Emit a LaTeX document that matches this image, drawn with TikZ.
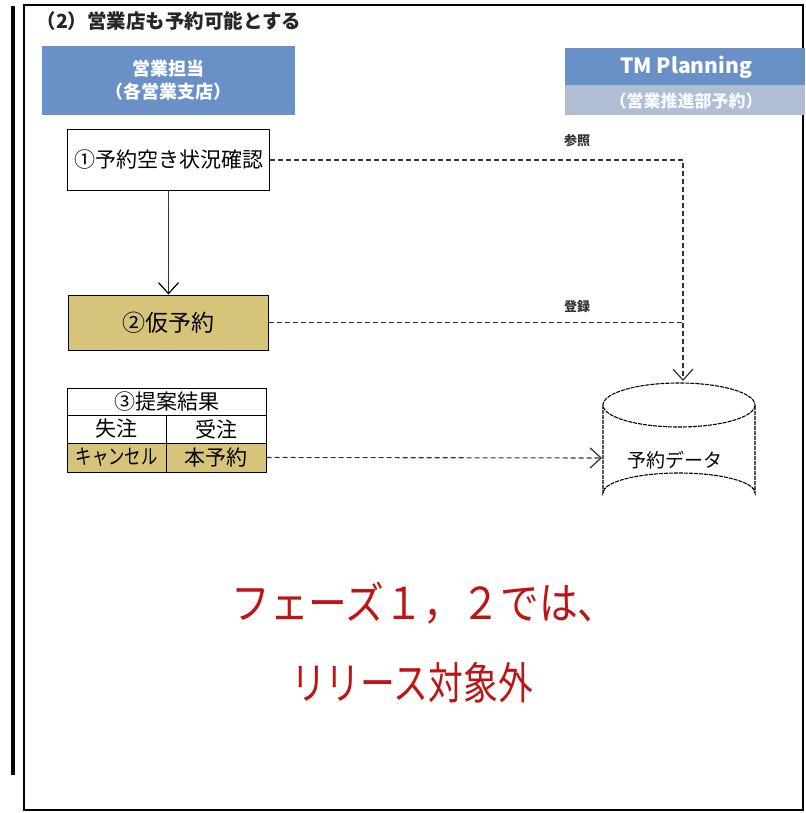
\documentclass[tikz,border=0pt]{standalone}
\usepackage{fontspec}
\setmainfont{Noto Sans CJK JP}
\usetikzlibrary{arrows.meta}
\definecolor{hdrblue}{RGB}{105,145,200}
\definecolor{hdrlight}{RGB}{175,190,212}
\definecolor{yel}{RGB}{214,196,122}
\definecolor{redtxt}{RGB}{190,20,20}
\definecolor{lineblue}{RGB}{30,50,120}
\tikzset{
  box/.style={draw=black, line width=1pt, inner sep=0pt, font=\fontsize{21}{24}\selectfont},
  cell/.style={draw=black, line width=1pt, inner sep=0pt, font=\fontsize{21}{23}\selectfont},
  dsh/.style={draw=black!80, line width=1.1pt, dash pattern=on 5pt off 3pt},
  vtip/.style={-{Straight Barb[length=11pt,width=20pt,line width=1.2pt]}},
  lbl/.style={font=\fontsize{13}{15}\selectfont\bfseries, text=black!80},
  hdr/.style={text=white, font=\fontsize{18}{23}\selectfont\bfseries, align=center},
  bigred/.style={text=redtxt, font=\fontsize{44}{50}\selectfont}
}
\begin{document}
\begin{tikzpicture}[x=1pt,y=-1pt]
\useasboundingbox (0,0) rectangle (805,813);
\fill[white] (0,0) rectangle (805,813);
% frame
\draw[line width=4pt] (13,6) -- (13,775);
\draw[line width=1.5pt] (24,5) rectangle (803,810);
% title
\node[anchor=west, font=\fontsize{19.5}{22}\selectfont\bfseries, text=black!85] (title) at (33,21) {（2）営業店も予約可能とする};
% headers
\fill[hdrblue] (42,46) rectangle (295,115);
\node[hdr] (hl) at (168.5,80.5) {営業担当\\（各営業支店）};
\fill[hdrblue] (565,48) rectangle (805,85);
\fill[hdrlight] (565,85) rectangle (805,115);
\node[text=white, font=\fontsize{21}{24}\selectfont\bfseries] (hr) at (686,67) {TM Planning};
\node[text=white!90!hdrlight, font=\fontsize{17}{20}\selectfont\bfseries] (hr2) at (686,101) {（営業推進部予約）};
% boxes
\node[box, minimum width=202pt, minimum height=60pt] (b1) at (168.5,160) {①予約空き状況確認};
\node[box, fill=yel, minimum width=200pt, minimum height=55pt, font=\fontsize{23}{26}\selectfont] (b2) at (168,322.5) {②仮予約};
% table
\node[cell, minimum width=199pt, minimum height=27pt] (t1) at (166.5,401.5) {③提案結果};
\node[cell, minimum width=99.5pt, minimum height=28pt] (t2a) at (116.75,429) {失注};
\node[cell, minimum width=99.5pt, minimum height=28pt] (t2b) at (216.25,429) {受注};
\node[cell, fill=yel, minimum width=99.5pt, minimum height=29pt] (t3a) at (116.75,457.5) {\scalebox{0.78}[1]{キャンセル}};
\node[cell, fill=yel, minimum width=99.5pt, minimum height=29pt] (t3b) at (216.25,457.5) {本予約};
% database cylinder
\draw[line width=1.1pt, dash pattern=on 4pt off 1pt, fill=white] (603,405) -- (603,493) arc[start angle=180, end angle=360, x radius=76, y radius=20] -- (755,405);
\draw[line width=1.1pt, dash pattern=on 4pt off 1pt, fill=white] (679,405) ellipse[x radius=76, y radius=22];
\node[font=\fontsize{19}{22}\selectfont] (db) at (675,460) {予約データ};
\coordinate (dbtop) at (683,381);
\coordinate (dbleft) at (602,458);
% connectors
\draw[lineblue, line width=1.2pt, -{Straight Barb[length=11pt,width=20pt,line width=1.2pt,color=black]}] (b1.south) -- (b1.south |- b2.north);
\draw[dsh, vtip] (b1.east) -| (dbtop);
\draw[dsh] (b2.east) -- (b2.east -| dbtop);
\draw[dsh, vtip] (t3b.east) -- (dbleft);
\node[lbl] (l1) at (577,141) {参照};
\node[lbl] (l2) at (577,307) {登録};
% red text
\node[bigred] (r1) at (424,603) {\scalebox{0.88}[1]{フェーズ１，２では、}};
\node[bigred] (r2) at (412,683) {\scalebox{0.79}[1]{リリース対象外}};
\end{tikzpicture}
\end{document}
